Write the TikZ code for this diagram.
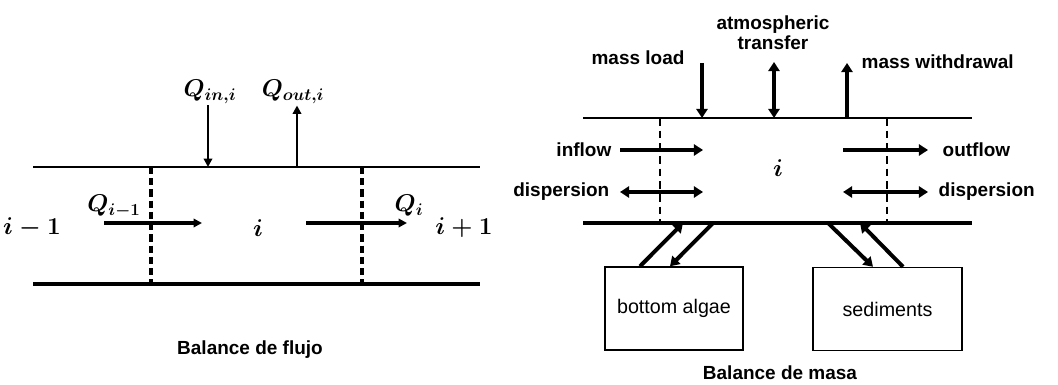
\documentclass[tikz,border=0pt]{standalone}
\usepackage{fontspec}
\setmainfont{Liberation Sans}
\usepackage{amsmath}
\usetikzlibrary{arrows.meta, calc}

\begin{document}
\begin{tikzpicture}[
		x=0.025cm, y=-0.025cm,
		lbl/.style={font=\fontsize{13.5}{14}\selectfont\bfseries, inner sep=1pt, align=center},
		mlbl/.style={font=\fontsize{16.5}{18}\selectfont\boldmath, inner sep=1pt},
		box/.style={draw, rectangle, line width=1pt, minimum width=#1, minimum height=2.075cm, font=\fontsize{14}{16}\selectfont},
		wall/.style={line width=1.5pt},
		bed/.style={line width=3.2pt},
		cut/.style={line width=2.6pt, dash pattern=on 5pt off 3pt},
		thincut/.style={line width=1.8pt, dash pattern=on 5.5pt off 3.5pt},
		arrow/.style={-{Triangle[length=6pt, width=6pt]}, line width=2.2pt},
		flow/.style={-{Triangle[length=6.5pt, width=8pt]}, line width=2.8pt},
		both/.style={{Triangle[length=6.5pt, width=8pt]}-{Triangle[length=6.5pt, width=8pt]}, line width=2.8pt}
		]
		\useasboundingbox (0,0) rectangle (1058,385);
		
		% Balance de flujo (left)
		\coordinate (tl) at (33,167);
		\coordinate (tr) at (480,167);
		\coordinate (bl) at (33,284);
		\coordinate (br) at (480,284);
		\draw[wall] (tl) -- (tr);
		\draw[bed] (bl) -- (br);
		\draw[cut] (151,167) coordinate (c1t) -- (151,284) coordinate (c1b);
		\draw[cut] (362,167) coordinate (c2t) -- (362,284) coordinate (c2b);
		
		\node[mlbl] (qin) at (210,92) {$Q_{in,i}$};
		\node[mlbl] (qout) at (293,92) {$Q_{out,i}$};
		\coordinate (qinEnd) at (208,167);
		\coordinate (qoutStart) at (297,167);
		\draw[arrow, line width=1.8pt] (qinEnd |- qin.south) -- (qinEnd);
		\draw[arrow, line width=1.8pt] (qoutStart) -- (qoutStart |- qout.south);
		
		\node[mlbl] (prev) at (32,228) {$i-1$};
		\node[mlbl] (cell) at (258,228) {$i$};
		\node[mlbl] (next) at (464,228) {$i+1$};
		\node[mlbl] (qprev) at (114,206) {$Q_{i-1}$};
		\node[mlbl] (qi) at (409,206) {$Q_i$};
		\coordinate (in1) at (104,223);
		\coordinate (in2) at (202,223);
		\coordinate (out1) at (306,223);
		\coordinate (out2) at (407,223);
		\draw[arrow] (in1) -- (in2);
		\draw[arrow] (out1) -- (out2);
		
		\node[lbl] (flujo) at (250,350) {Balance de flujo};
		
		% Balance de masa (right)
		\coordinate (mtl) at (583,118);
		\coordinate (mtr) at (972,118);
		\coordinate (mbl) at (583,223);
		\coordinate (mbr) at (972,223);
		\draw[wall, line width=2pt] (mtl) -- (mtr);
		\draw[bed, line width=2.8pt] (mbl) -- (mbr);
		\draw[thincut] (660,118) -- (660,223);
		\draw[thincut] (887,118) -- (887,223);
		
		\node[mlbl] (mcell) at (778,168) {$i$};
		
		\node[lbl] (load) at (638,58) {mass load};
		\node[lbl] (atmos) at (773,33) {atmospheric\\transfer};
		\node[lbl, anchor=west] (withdraw) at (860,62) {mass withdrawal};
		\coordinate (loadEnd) at (702,118);
		\coordinate (atmosEnd) at (774,118);
		\coordinate (drawStart) at (847,118);
		\draw[flow] (702,63) -- (loadEnd);
		\draw[both] (774,62) -- (atmosEnd);
		\draw[flow] (drawStart) -- (847,63);
		
		\node[lbl, anchor=east] (inflow) at (613,150) {inflow};
		\node[lbl, anchor=east] (dispL) at (611,192) {dispersion};
		\node[lbl, anchor=west] (outflow) at (941,150) {outflow};
		\node[lbl, anchor=west] (dispR) at (937,192) {dispersion};
		\draw[flow] (inflow.east) ++(7,0) -- (703,150);
		\draw[both] (620,192) -- (703,192);
		\draw[flow] (843,150) -- (928,150);
		\draw[both] (843,192) -- (928,192);
		
		\node[box=3.45cm] (algae) at (674,308.5) {bottom algae};
		\node[box=3.725cm] (sed) at (887.5,309) {sediments};
		\draw[flow] ($(algae.north)+(-34,0)$) -- (683,223);
		\draw[flow] (713,223) -- ($(algae.north)+(-4,0)$);
		\draw[flow] (828,223) -- ($(sed.north)+(-14.5,0)$);
		\draw[flow] ($(sed.north)+(15.5,0)$) -- (860,223);
		
		\node[lbl, inner sep=0pt] (masa) at (780,373) {Balance de masa};
		
	\end{tikzpicture}
\end{document}
